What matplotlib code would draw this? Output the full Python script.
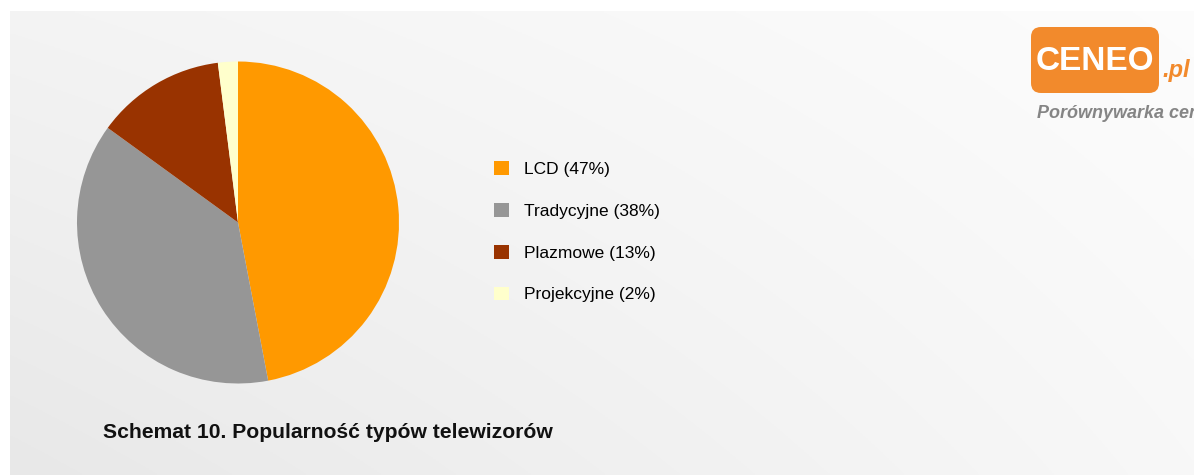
import numpy as np
import matplotlib
matplotlib.use("Agg")
import matplotlib.pyplot as plt
from matplotlib.patches import Patch, FancyBboxPatch

plt.rcParams['font.family'] = ['Liberation Sans', 'DejaVu Sans']

categories = ["LCD", "Tradycyjne", "Plazmowe", "Projekcyjne"]
values = [47, 38, 13, 2]
colors = ["#FF9900", "#969696", "#993300", "#FFFFCC"]
title = "Schemat 10. Popularność typów telewizorów"

W, H = 1194, 475
fig = plt.figure(figsize=(W / 100, H / 100), dpi=100)
fig.patch.set_facecolor("white")

# background panel with soft gradient
bg = fig.add_axes([0, 0, 1, 1])
bg.set_xlim(0, W)
bg.set_ylim(H, 0)
bg.axis("off")
yy, xx = np.mgrid[0:1:200j, 0:1:400j]
grad = 0.955 + 0.035 * xx - 0.045 * yy * (1 - 0.6 * xx)
grad = np.clip(grad, 0, 1)
bg.imshow(np.dstack([grad, grad, grad]), extent=(10, W, H, 11), aspect="auto", zorder=0)

# logo (CENEO.pl)
logo = FancyBboxPatch((1031, 27), 128, 66, boxstyle="round,pad=0,rounding_size=10",
                      facecolor="#F28A2C", edgecolor="none", zorder=2)
bg.add_patch(logo)
bg.text(1095, 61, "CENEO", color="white", fontsize=24, fontweight="bold",
        va="center", ha="center", zorder=3)
bg.text(1162, 71, ".pl", color="#F28A2C", fontsize=17, fontweight="bold", style="italic",
        va="center", ha="left", zorder=3)
bg.text(1037, 113, "Porównywarka cen", color="#858585", fontsize=13, fontweight="bold",
        style="italic", va="center", ha="left", zorder=3)

# pie
cx, cy, r = 238, 222.5, 161
ax = fig.add_axes([(cx - r) / W, 1 - (cy + r) / H, 2 * r / W, 2 * r / H])
wedges, _ = ax.pie(values, colors=colors, startangle=90, counterclock=False,
                   wedgeprops=dict(linewidth=0))
ax.set_aspect("equal")
ax.set_xlim(-1, 1)
ax.set_ylim(-1, 1)
ax.axis("off")

labels = [f"{c} ({v}%)" for c, v in zip(categories, values)]
handles = [Patch(facecolor=c, edgecolor="none") for c in colors]
fig.legend(handles, labels, loc="upper left", bbox_to_anchor=(487 / W, 1 - 154 / H),
           frameon=False, fontsize=12.5, handlelength=0.86, handleheight=0.86,
           handletextpad=0.86, labelspacing=1.49, borderaxespad=0)

fig.text(103 / W, 1 - 432 / H, title, fontsize=15.2, fontweight="bold",
         va="center", ha="left", color="#111111")

fig.savefig("out.png", dpi=100)
